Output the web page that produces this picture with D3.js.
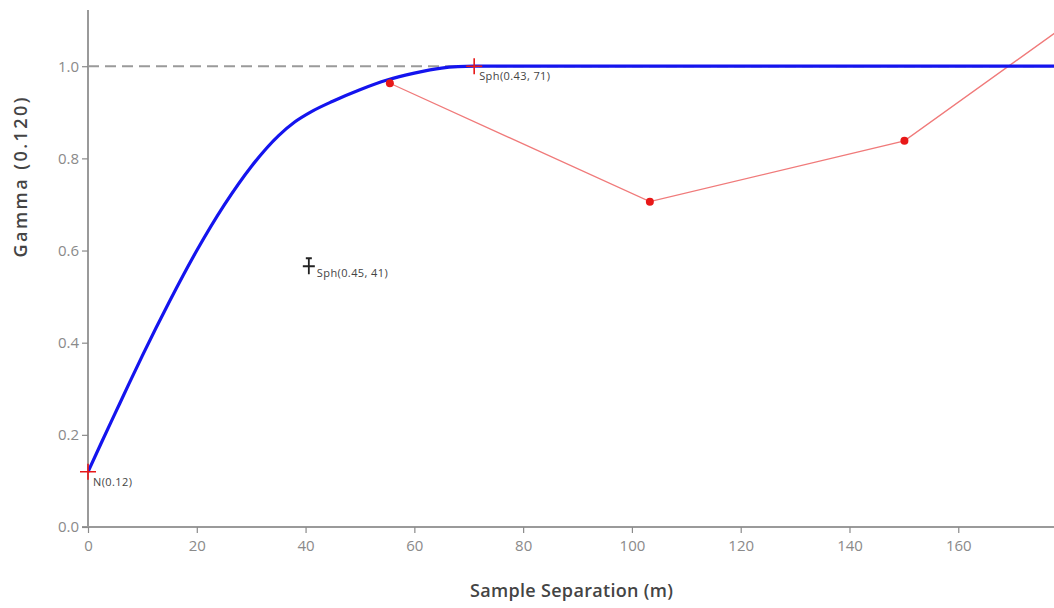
<!DOCTYPE html>
<html><head><meta charset="utf-8">
<script src="https://cdn.jsdelivr.net/npm/d3@7"></script>
<style>body{margin:0;background:#fff}svg{display:block}</style>
</head><body>
<svg id="c" width="1054" height="608"></svg>
<script>
// Model curve: lag h vs gamma
const modelLag = [0, 2.5, 5, 7.5, 10, 15, 20, 25, 30, 35, 38, 41, 45, 50, 55, 60, 65, 68, 71, 177.6];
const modelGamma = [0.12, 0.184, 0.247, 0.310, 0.372, 0.490, 0.600, 0.698, 0.782, 0.849, 0.879, 0.901, 0.924, 0.949, 0.970, 0.985, 0.996, 0.999, 1.0, 1.0];
// Experimental variogram points
const expLag = [55.5, 103.3, 150.1, 197];
const expGamma = [0.963, 0.706, 0.838, 1.235];
const sill = 1.0;
const xTicks = [0, 20, 40, 60, 80, 100, 120, 140, 160];
const yTicks = [0.0, 0.2, 0.4, 0.6, 0.8, 1.0];
const annRed = [{h: 0, g: 0.12, label: "N(0.12)"}, {h: 71, g: 1.0, label: "Sph(0.43, 71)"}];
const annBlack = [{h: 40.6, g: 0.568, label: "Sph(0.45, 41)"}];

const svg = d3.select("#c");
const m = {l: 88, r: 0, t: 10, b: 81};
const W = 1054, H = 608;
const x = d3.scaleLinear().domain([0, 177.6]).range([m.l, W - m.r]);
const y = d3.scaleLinear().domain([0, 1.122]).range([H - m.b, m.t]);

svg.append("defs").append("clipPath").attr("id", "clip")
  .append("rect").attr("x", m.l).attr("y", 0).attr("width", W - m.l).attr("height", H - m.b);

const font = "'Open Sans', 'DejaVu Sans', sans-serif";

// axes
const xa = svg.append("g").attr("transform", `translate(0,${y(0)})`)
  .call(d3.axisBottom(x).tickValues(xTicks).tickSize(6).tickSizeOuter(0).tickPadding(7).tickFormat(d3.format("d")));
const ya = svg.append("g").attr("transform", `translate(${m.l},0)`)
  .call(d3.axisLeft(y).tickValues(yTicks).tickSize(6).tickSizeOuter(0).tickPadding(3).tickFormat(d3.format(".1f")));
[xa, ya].forEach(a => {
  a.select(".domain").attr("stroke", "#9a9a9a").attr("stroke-width", 2);
  a.selectAll(".tick line").attr("stroke", "#8a8a8a").attr("stroke-width", 1.2);
  a.selectAll(".tick text").attr("fill", "#8a8a8a").style("font-family", font).style("font-size", "15px");
});
ya.select(".domain").attr("d", `M0,${y(0)}V${m.t}`);
xa.select(".domain").attr("d", `M${m.l - 6},0H${W}`);

// titles
svg.append("text").attr("x", 571.5).attr("y", 597).attr("text-anchor", "middle")
  .attr("fill", "#444").style("font-family", font).style("font-size", "18px").style("font-weight", "600")
  .attr("textLength", 203).attr("lengthAdjust", "spacing")
  .text("Sample Separation (m)");
svg.append("text").attr("transform", `translate(27,177.5) rotate(-90)`).attr("text-anchor", "middle")
  .attr("fill", "#444").style("font-family", font).style("font-size", "18px").style("font-weight", "600")
  .attr("textLength", 160).attr("lengthAdjust", "spacing")
  .text("Gamma (0.120)");

const plot = svg.append("g").attr("clip-path", "url(#clip)");

// sill dashed line
plot.append("line").attr("x1", x(0)).attr("x2", W).attr("y1", y(sill)).attr("y2", y(sill))
  .attr("stroke", "#9a9a9a").attr("stroke-width", 2).attr("stroke-dasharray", "11,6");

// experimental line
const expData = expLag.map((h, i) => [h, expGamma[i]]);
plot.append("path").datum(expData)
  .attr("d", d3.line().x(d => x(d[0])).y(d => y(d[1])))
  .attr("fill", "none").attr("stroke", "#f07a7a").attr("stroke-width", 1.3);

// model curve
const modelData = modelLag.map((h, i) => [h, modelGamma[i]]);
plot.append("path").datum(modelData)
  .attr("d", d3.line().x(d => x(d[0])).y(d => y(d[1])).curve(d3.curveMonotoneX))
  .attr("fill", "none").attr("stroke", "#1414ee").attr("stroke-width", 3.2);

// experimental points
plot.selectAll("circle.pt").data(expData).enter().append("circle")
  .attr("cx", d => x(d[0])).attr("cy", d => y(d[1])).attr("r", 4).attr("fill", "#e81818");

// red annotations
annRed.forEach(a => {
  const cx = x(a.h), cy = y(a.g);
  svg.append("path").attr("d", `M${cx - 8},${cy}H${cx + 8}M${cx},${cy - 8}V${cy + 8}`)
    .attr("stroke", "#e81818").attr("stroke-width", 1.6);
  svg.append("text").attr("x", cx + 5).attr("y", cy + 14).attr("fill", "#444")
    .style("font-family", font).style("font-size", "11px").style("letter-spacing", "0.4px").text(a.label);
});
annBlack.forEach(a => {
  const cx = x(a.h), cy = y(a.g);
  svg.append("path").attr("d", `M${cx - 6},${cy + 1}H${cx + 6}M${cx},${cy - 8}V${cy + 9}M${cx - 3},${cy - 7}H${cx + 3}`)
    .attr("stroke", "#222").attr("stroke-width", 1.8);
  svg.append("text").attr("x", cx + 8).attr("y", cy + 12).attr("fill", "#444")
    .style("font-family", font).style("font-size", "11px").style("letter-spacing", "0.4px").text(a.label);
});
</script>
</body></html>
